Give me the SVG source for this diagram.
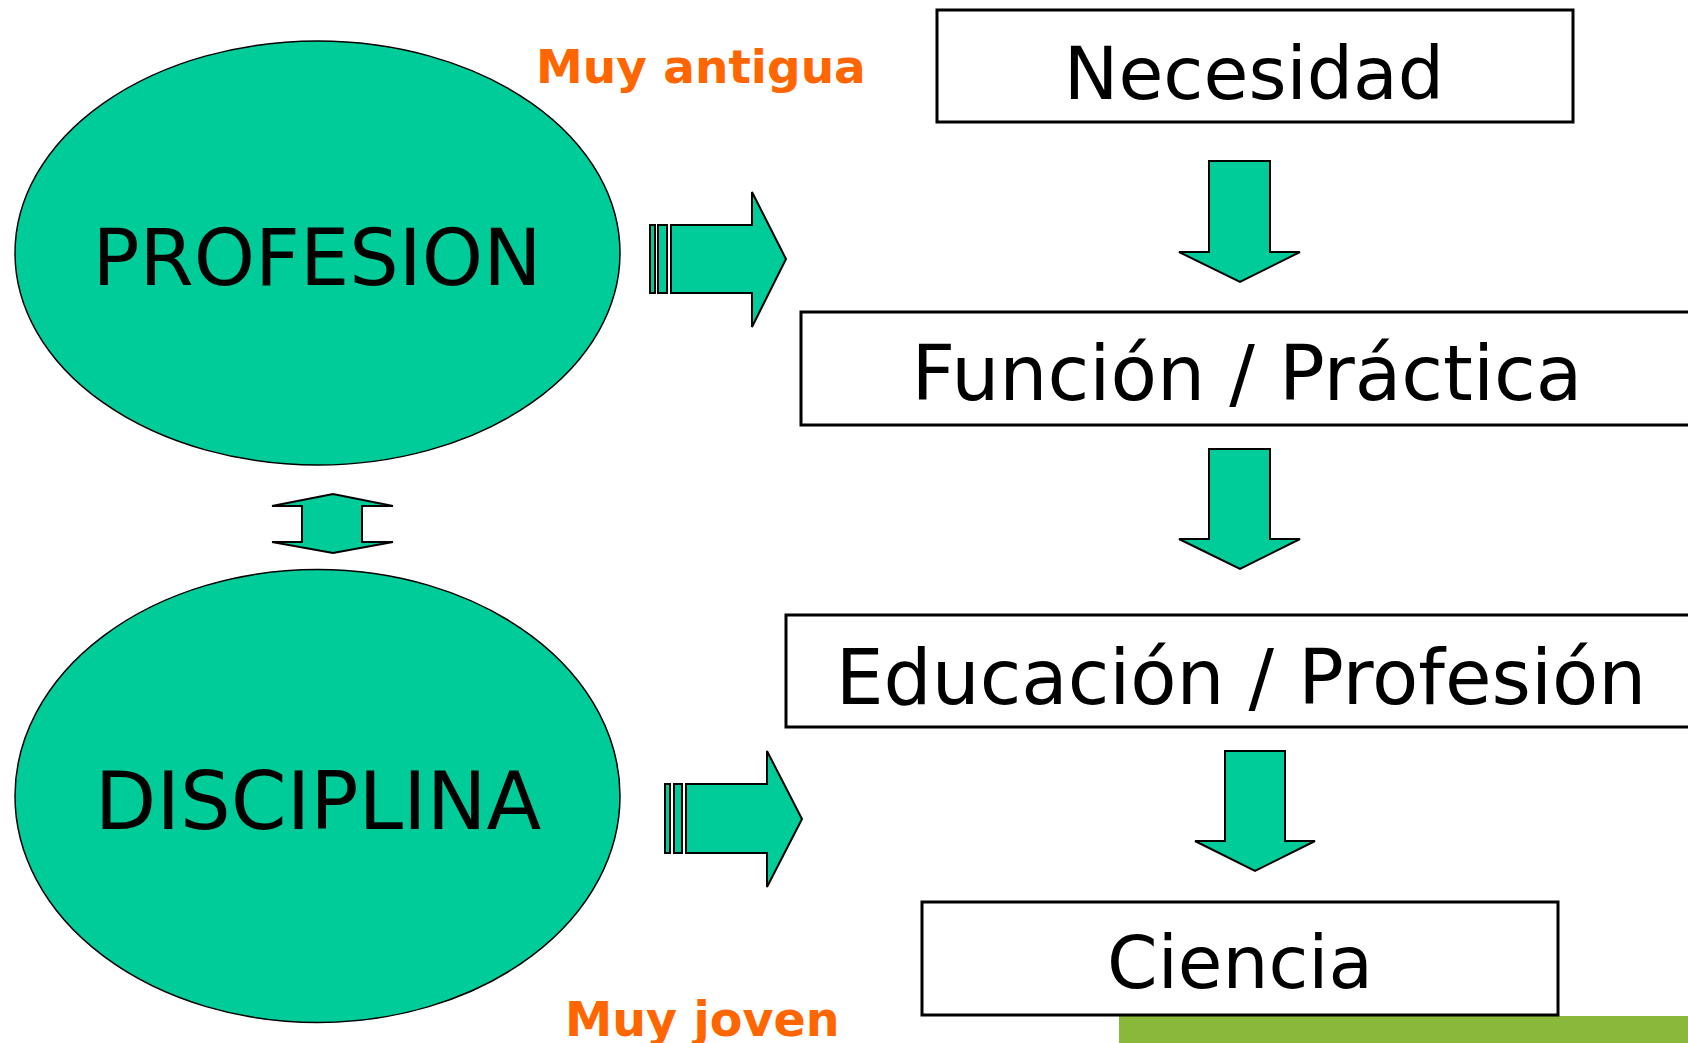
<svg xmlns="http://www.w3.org/2000/svg" width="1688" height="1043" viewBox="0 0 1688 1043">
<style>
.ell{fill:#00CC99;stroke:#000;stroke-width:1.5}
.box{fill:#fff;stroke:#000;stroke-width:3}
.arr{fill:#00CC99;stroke:#000;stroke-width:2;stroke-linejoin:miter}
.big{font-family:"DejaVu Sans","Liberation Sans",sans-serif;font-size:74px;fill:#000;text-anchor:middle}
.note{font-family:"DejaVu Sans","Liberation Sans",sans-serif;font-size:47px;font-weight:bold;fill:#FF6600}
</style>
<rect width="1688" height="1043" fill="#fff"/>
<rect x="1119" y="1016" width="569" height="27" fill="#8AB83A"/>
<g id="profesion">
<ellipse class="ell" cx="317.5" cy="253" rx="302.5" ry="212"/>
<text class="big" x="317" y="285" style="font-size:78px">PROFESION</text>
</g>
<g id="disciplina">
<ellipse class="ell" cx="317.5" cy="796" rx="302.5" ry="226.5"/>
<text class="big" x="318" y="829" style="font-size:80px">DISCIPLINA</text>
</g>
<g id="necesidad">
<rect class="box" x="937" y="10" width="636" height="112"/>
<text class="big" x="1254" y="99" style="font-size:73px">Necesidad</text>
</g>
<g id="funcion">
<rect class="box" x="801" y="312" width="900" height="113"/>
<text class="big" x="1247" y="400" style="font-size:76px">Función / Práctica</text>
</g>
<g id="educacion">
<rect class="box" x="786" y="615" width="915" height="112"/>
<text class="big" x="1241" y="704" style="font-size:75.7px">Educación / Profesión</text>
</g>
<g id="ciencia">
<rect class="box" x="922" y="902" width="636" height="113"/>
<text class="big" x="1240" y="988" style="font-size:72.5px">Ciencia</text>
</g>
<g id="notes">
<text class="note" x="536" y="83">Muy antigua</text>
<text class="note" x="565" y="1036" style="font-size:47.5px">Muy joven</text>
</g>
<g id="connectors">
<rect class="arr" x="650" y="225" width="5" height="68"/>
<rect class="arr" x="658" y="225" width="9" height="68"/>
<polygon class="arr" points="671,225 752,225 752,192 786,259 752,327 752,293 671,293"/>
<rect class="arr" x="665" y="784" width="5" height="69"/>
<rect class="arr" x="674" y="784" width="8" height="69"/>
<polygon class="arr" points="686,784 767,784 767,751 802,819 767,887 767,853 686,853"/>
<polygon class="arr" points="272,506 333,494 393,506 362,506 362,542 393,542 333,553 272,542 302,542 302,506"/>
<polygon class="arr" points="1209,161 1270,161 1270,252 1300,252 1240,282 1179,252 1209,252"/>
<polygon class="arr" points="1209,449 1270,449 1270,539 1300,539 1240,569 1179,539 1209,539"/>
<polygon class="arr" points="1225,751 1285,751 1285,841 1315,841 1255,871 1195,841 1225,841"/>
</g>
</svg>
